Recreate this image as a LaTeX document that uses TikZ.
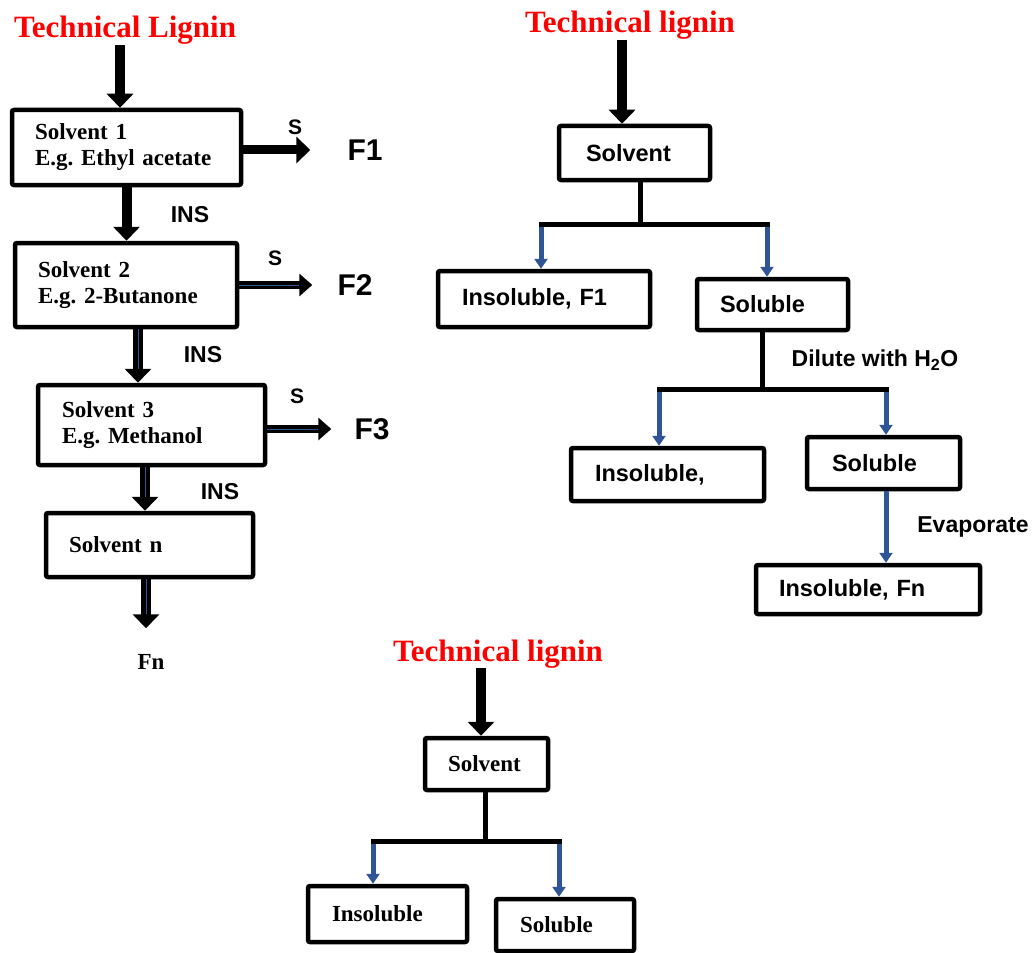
\documentclass[tikz,border=0pt]{standalone}
\usepackage{fontspec}
\setmainfont{Liberation Serif}
\setsansfont{Liberation Sans}
\usetikzlibrary{positioning, arrows.meta}
\definecolor{stepblue}{RGB}{47,85,151}
\definecolor{titlered}{RGB}{255,0,0}
\frenchspacing

\begin{document}
\begin{tikzpicture}[
    x=1pt, y=-1pt,
    box/.style={
        rectangle,
        rounded corners=2pt,
        draw=black,
        line width=4.5pt,
        fill=white,
        inner ysep=0pt,
        align=left,
        font=\fontsize{23}{26}\selectfont\bfseries
    },
    sansbox/.style={
        box,
        font=\fontsize{23.5}{26}\selectfont\sffamily\bfseries
    },
    title/.style={
        text=titlered,
        inner sep=0pt,
        font=\fontsize{31}{34}\selectfont\bfseries
    },
    tag/.style={
        inner sep=0pt,
        font=\fontsize{23}{26}\selectfont\sffamily\bfseries
    },
    fraction/.style={
        inner sep=0pt,
        font=\fontsize{30}{32}\selectfont\sffamily\bfseries
    },
    fatarrow/.style={
        line width=10pt,
        -{Triangle[length=14pt, width=26pt]}
    },
    sarrow/.style={
        line width=8pt,
        -{Triangle[length=13pt, width=22pt]}
    },
    stripe/.style={
        postaction={draw=stepblue, line width=1pt, -, shorten >=#1}
    },
    stripe/.default=14pt,
    bluearrow/.style={
        line width=5pt,
        stepblue,
        -{Triangle[length=10pt, width=13pt]}
    },
    stem/.style={
        line width=5pt,
        line cap=rect
    }
]
\useasboundingbox (0,0) rectangle (1032,952);

% Left: serial extraction
\node[title, anchor=base] (title1) at (125,38) {Technical Lignin};

\node[box, text width=183pt, inner xsep=23pt, minimum height=75pt] (box1) at (126.5,147.5) {
    Solvent 1\\E.g. Ethyl acetate};
\node[box, text width=176pt, inner xsep=23pt, minimum height=84pt] (box2) at (126,285) {
    Solvent 2\\E.g. 2-Butanone};
\node[box, text width=179pt, inner xsep=24pt, minimum height=80pt] (box3) at (151.5,425) {
    Solvent 3\\E.g. Methanol};
\node[box, text width=161pt, inner xsep=23pt, minimum height=64pt] (boxn) at (149.5,545) {
    Solvent n};

\node[fraction] (f1) at (365,150) {F1};
\node[fraction] (f2) at (355,285) {F2};
\node[fraction] (f3) at (372,429) {F3};
\node[inner sep=0pt, font=\fontsize{23}{26}\selectfont\bfseries] (fn) at (151,662) {Fn};

\node[tag, font=\fontsize{21}{24}\selectfont\sffamily\bfseries] (slab1) at (295,127) {S};
\node[tag, font=\fontsize{21}{24}\selectfont\sffamily\bfseries] (slab2) at (275,258) {S};
\node[tag, font=\fontsize{21}{24}\selectfont\sffamily\bfseries] (slab3) at (297,396) {S};
\node[tag] (inslab1) at (190,215) {INS};
\node[tag] (inslab2) at (203,355) {INS};
\node[tag] (inslab3) at (220,492) {INS};

\coordinate (c2) at ([xshift=12pt]box2.south);
\coordinate (c3) at ([xshift=-6.5pt]box3.south);
\coordinate (cn) at ([xshift=-3.5pt]boxn.south);

\draw[fatarrow] ([xshift=-5pt]title1.south) -- ([xshift=-6.5pt]box1.north);
\draw[fatarrow, line width=9pt] (box1.east |- f1.west) -- (f1.west) [shorten >=37pt];
\draw[fatarrow] (box1.south) -- (box1.south |- box2.north);
\draw[sarrow, stripe=38pt] (box2.east |- f2.west) -- (f2.west) [shorten >=25pt];
\draw[fatarrow, stripe] (c2) -- (c2 |- box3.north);
\draw[sarrow, stripe=36pt] (box3.east |- f3.west) -- (f3.west) [shorten >=23pt];
\draw[fatarrow, stripe] (c3) -- (c3 |- boxn.north);
\draw[fatarrow, stripe=40pt] (cn) -- (cn |- fn.north) [shorten >=26pt];

% Right: dilution with water
\node[title, anchor=base] (title2) at (630,33) {Technical lignin};

\node[sansbox, text width=97pt, inner xsep=27pt, minimum height=54pt] (solv1) at (634.5,153) {Solvent};
\node[sansbox, text width=164pt, inner xsep=24pt, minimum height=56pt] (insol1) at (544,299) {Insoluble, F1};
\node[sansbox, text width=105pt, inner xsep=23pt, minimum height=51pt] (sol1) at (772.5,304.5) {Soluble};
\node[sansbox, text width=145pt, inner xsep=24pt, minimum height=53pt] (insol2) at (667.5,474.5) {Insoluble,};
\node[sansbox, text width=103pt, inner xsep=25pt, minimum height=52pt] (sol2) at (883.5,463) {Soluble};
\node[sansbox, text width=178pt, inner xsep=23pt, minimum height=49pt] (insoln) at (868,589.5) {Insoluble, Fn};

\node[tag] (dilute) at (875,360) {Dilute with H\textsubscript{2}O};
\node[tag] (evap) at (973,527) {Evaporate};

\coordinate (j1) at (640,224);
\coordinate (j1l) at (541,224);
\coordinate (j1r) at (767,224);
\coordinate (j2) at (762,389);
\coordinate (j2l) at (659,389);
\coordinate (j2r) at (886,389);

\draw[fatarrow] ([xshift=-8pt]title2.south) -- ([xshift=-12.5pt]solv1.north);
\draw[bluearrow] (j1l) -- (j1l |- insol1.north);
\draw[bluearrow] (j1r) -- (j1r |- sol1.north);
\draw[stem] (solv1.south -| j1) -- (j1);
\draw[stem] (j1l) -- (j1r);
\draw[bluearrow] (j2l) -- (j2l |- insol2.north);
\draw[bluearrow] (j2r) -- (j2r |- sol2.north);
\draw[stem] (sol1.south -| j2) -- (j2);
\draw[stem] (j2l) -- (j2r);
\draw[bluearrow] (sol2.south -| j2r) -- (j2r |- insoln.north);

% Bottom: single solvent
\node[title, anchor=base] (title3) at (498,661) {Technical lignin};

\node[box, text width=77pt, inner xsep=23pt, minimum height=52pt] (solv2) at (486.5,764) {Solvent};
\node[box, text width=111pt, inner xsep=24pt, minimum height=56pt] (insol3) at (387.5,914) {Insoluble};
\node[box, text width=90pt, inner xsep=24pt, minimum height=52pt] (sol3) at (565,925) {Soluble};

\coordinate (j3) at (485,841);
\coordinate (j3l) at (373,841);
\coordinate (j3r) at (559,841);

\draw[fatarrow] ([xshift=-17pt]title3.south) -- ([xshift=-5.5pt]solv2.north);
\draw[bluearrow] (j3l) -- (j3l |- insol3.north);
\draw[bluearrow] (j3r) -- (j3r |- sol3.north);
\draw[stem] (solv2.south -| j3) -- (j3);
\draw[stem] (j3l) -- (j3r);

\end{tikzpicture}
\end{document}
